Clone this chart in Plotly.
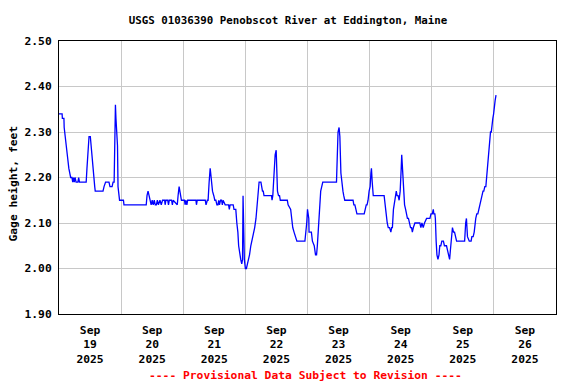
import pandas as pd
import plotly.graph_objects as go

# Hours since 2025-09-19 00:00 (local) and gage height (feet)
hours = [
    0, 1.2, 1.3, 1.6, 1.9, 2.0, 2.5, 3.0, 3.4, 3.8, 4.2, 4.5, 5.0, 5.3, 5.6, 5.9, 6.2, 6.6, 7.3, 7.6, 7.9,
    10.5, 10.8, 11.1, 11.4, 11.6, 12.1, 12.4, 12.7, 13.1, 13.4, 13.8, 14.0, 17.0, 17.4, 18.0, 19.3, 19.7,
    20.5, 20.9, 21.3, 21.5, 21.8, 22.0, 22.3, 22.6, 22.8, 23.1, 23.4, 24.2, 24.9, 25.1, 33.7, 34.0, 34.4,
    34.8, 35.2, 35.6, 36.0, 36.4, 36.8, 37.2, 37.6, 38.0, 38.4, 39.0, 39.5, 40.0, 40.8, 41.0, 41.3, 42.0,
    42.3, 42.6, 43.5, 43.8, 44.1, 45.7, 46.0, 46.4, 46.7, 47.0, 47.3, 48.5, 48.7, 49.0, 49.4, 49.7, 52.9,
    53.1, 53.4, 56.5, 56.8, 57.3, 57.6, 58.0, 58.4, 58.6, 58.9, 59.3, 59.8, 60.2, 60.6, 61.0, 61.4, 61.7,
    62.0, 62.4, 62.8, 63.1, 63.4, 64.2, 65.5, 65.8, 66.1, 66.8, 67.3, 67.6, 68.3, 68.7, 69.1, 69.4, 69.8,
    70.2, 70.6, 70.9, 71.1, 71.3, 71.4, 71.6, 72.0, 72.4, 72.8, 73.2, 73.6, 74.1, 74.5, 74.9, 75.3, 75.6,
    76.1, 76.5, 76.9, 77.3, 78.0, 78.2, 78.6, 78.9, 79.2, 82.1, 82.3, 82.6, 83.1, 83.5, 83.9, 84.1, 84.4,
    84.8, 85.2, 85.5, 88.2, 88.5, 89.2, 89.5, 89.9, 90.3, 90.8, 91.3, 91.9, 95.0, 95.4, 95.7, 96.0, 96.2,
    96.5, 96.6, 97.5, 97.9, 98.6, 99.1, 99.5, 99.8, 100.1, 100.4, 100.8, 101.1, 101.5, 101.9, 107.2, 107.4,
    107.8, 108.2, 108.5, 108.9, 109.3, 109.7, 110.0, 110.4, 112.0, 112.2, 113.6, 113.9, 114.3, 114.7, 115.1,
    117.9, 118.3, 118.7, 119.0, 119.4, 119.8, 120.2, 120.5, 120.7, 121.0, 121.4, 125.6, 126.0, 126.4, 126.8,
    127.2, 127.7, 128.2, 128.5, 128.8, 129.2, 129.7, 130.3, 130.6, 131.0, 131.4, 131.8, 132.2, 132.4, 132.7,
    133.1, 133.5, 133.9, 134.2, 134.6, 135.0, 135.4, 135.8, 136.2, 136.5, 136.9, 137.5, 138.1, 139.4, 139.8,
    140.2, 140.7, 141.2, 142.0, 143.3, 143.7, 144.2, 144.6, 144.8, 145.2, 145.4, 145.7, 146.0, 146.4, 146.8,
    147.1, 147.5, 147.9, 148.5, 148.9, 149.3, 149.7, 150.1, 150.5, 150.9, 151.2, 151.6, 152.0, 152.4, 152.8,
    153.2, 153.6, 156.7, 156.9, 157.1, 157.4, 157.5, 157.8, 158.5, 159.2, 159.5, 160.0, 160.4, 160.7, 161.0,
    161.4, 161.8, 162.2, 162.6, 163.0, 163.4, 163.8, 164.1, 164.5, 164.9, 165.2, 165.4, 165.7, 166.1, 166.5,
    166.7, 167.0, 167.3, 167.6, 167.9, 168.2, 168.5, 168.8, 169.0,
]
gage_height = [
    2.34, 2.34, 2.33, 2.33, 2.33, 2.31, 2.28, 2.26, 2.24, 2.22, 2.21, 2.20, 2.20, 2.19, 2.20, 2.19, 2.20, 2.19, 2.19, 2.20, 2.19,
    2.19, 2.22, 2.25, 2.28, 2.29, 2.29, 2.27, 2.25, 2.21, 2.19, 2.18, 2.17, 2.17, 2.18, 2.19, 2.19, 2.18,
    2.18, 2.19, 2.19, 2.29, 2.36, 2.33, 2.30, 2.27, 2.18, 2.16, 2.15, 2.15, 2.15, 2.14, 2.14, 2.16, 2.17,
    2.16, 2.15, 2.14, 2.15, 2.14, 2.15, 2.14, 2.14, 2.15, 2.14, 2.15, 2.14, 2.15, 2.15, 2.14, 2.15, 2.15,
    2.14, 2.15, 2.15, 2.14, 2.15, 2.14, 2.16, 2.18, 2.17, 2.16, 2.15, 2.15, 2.14, 2.15, 2.14, 2.15, 2.15,
    2.14, 2.15, 2.15, 2.14, 2.15, 2.15, 2.19, 2.22, 2.21, 2.19, 2.17, 2.16, 2.15, 2.15, 2.14, 2.14, 2.15,
    2.14, 2.15, 2.15, 2.14, 2.15, 2.14, 2.14, 2.13, 2.14, 2.14, 2.14, 2.13, 2.13, 2.10, 2.08, 2.05, 2.03,
    2.02, 2.01, 2.02, 2.16, 2.08, 2.14, 2.02, 2.00, 2.00, 2.01, 2.02, 2.03, 2.05, 2.06, 2.07, 2.08, 2.09,
    2.11, 2.14, 2.17, 2.19, 2.19, 2.18, 2.17, 2.17, 2.16, 2.16, 2.15, 2.16, 2.22, 2.25, 2.26, 2.20, 2.17,
    2.16, 2.16, 2.15, 2.15, 2.14, 2.13, 2.13, 2.11, 2.09, 2.08, 2.07, 2.06, 2.06, 2.08, 2.10, 2.13, 2.12,
    2.11, 2.08, 2.08, 2.06, 2.05, 2.03, 2.03, 2.05, 2.08, 2.12, 2.14, 2.17, 2.18, 2.19, 2.19, 2.22,
    2.30, 2.31, 2.29, 2.21, 2.18, 2.17, 2.16, 2.15, 2.15, 2.15, 2.15, 2.14, 2.14, 2.13, 2.12,
    2.12, 2.13, 2.14, 2.14, 2.15, 2.17, 2.18, 2.21, 2.22, 2.19, 2.16, 2.16, 2.13, 2.12, 2.10,
    2.09, 2.09, 2.08, 2.09, 2.09, 2.13, 2.15, 2.17, 2.16, 2.16, 2.15, 2.17, 2.22, 2.25, 2.22,
    2.18, 2.14, 2.13, 2.12, 2.11, 2.11, 2.10, 2.09, 2.09, 2.08, 2.09, 2.10, 2.10, 2.10, 2.09,
    2.10, 2.09, 2.10, 2.11, 2.11, 2.12, 2.12, 2.13, 2.12, 2.12, 2.11, 2.06, 2.03, 2.02, 2.03,
    2.05, 2.05, 2.06, 2.06, 2.05, 2.05, 2.05, 2.04, 2.03, 2.02, 2.04, 2.07, 2.09, 2.08, 2.08,
    2.07, 2.06, 2.06, 2.09, 2.10, 2.11, 2.09, 2.07, 2.06, 2.06, 2.07, 2.07, 2.08, 2.10, 2.11,
    2.12, 2.12, 2.13, 2.14, 2.15, 2.16, 2.17, 2.17, 2.18, 2.18, 2.20, 2.23, 2.25, 2.27, 2.29,
    2.30, 2.30, 2.32, 2.33, 2.34, 2.36, 2.37, 2.38, 2.38,
]

start = pd.Timestamp("2025-09-19 00:00")
times = start + pd.to_timedelta(hours, unit="h")

title_text = "USGS 01036390 Penobscot River at Eddington, Maine"
y_title = "Gage height, feet"
footer_text = "---- Provisional Data Subject to Revision ----"

FONT = "DejaVu Sans Mono"

fig = go.Figure()
fig.add_trace(go.Scatter(
    x=times, y=gage_height, mode="lines",
    line=dict(color="#0000FF", width=1.3),
    hoverinfo="skip", showlegend=False,
))

fig.update_layout(
    width=576, height=384,
    margin=dict(l=59, r=20, t=41, b=70),
    paper_bgcolor="white", plot_bgcolor="white",
    font=dict(family=FONT, size=11, color="black"),
    title=dict(text="<b>" + title_text + "</b>", x=0.5, xanchor="center",
               y=1 - 20 / 384, yanchor="middle", yref="container",
               font=dict(family=FONT, size=10.8, color="black")),
    showlegend=False,
)

fig.update_xaxes(
    type="date",
    range=["2025-09-19 00:00", "2025-09-27 00:00"],
    dtick=86400000, tick0="2025-09-19",
    ticklabelmode="period",
    tickformat="%b<br>%d<br>%Y",
    tickfont=dict(family=FONT, size=11.3, color="black", weight="bold"),
    ticklabelstandoff=5,
    showgrid=True, gridcolor="#c8c8c8", gridwidth=1,
    showline=True, linecolor="black", linewidth=1, mirror=True,
    ticks="", zeroline=False,
)
fig.update_yaxes(
    range=[1.90, 2.50], dtick=0.1, tick0=1.90, tickformat=".2f",
    tickfont=dict(family=FONT, size=11.3, color="black", weight="bold"),
    showgrid=True, gridcolor="#c8c8c8", gridwidth=1,
    showline=True, linecolor="black", linewidth=1, mirror=True,
    ticks="outside", ticklen=4, tickcolor="white", zeroline=False,
)

fig.add_annotation(
    text="<b>" + y_title + "</b>", textangle=-90,
    xref="paper", yref="paper", x=(13 - 59) / 497, y=0.5 - 6 / 273,
    xanchor="center", yanchor="middle", showarrow=False,
    font=dict(family=FONT, size=11.3, color="black"),
)
fig.add_annotation(
    text="<b>" + footer_text + "</b>",
    xref="paper", yref="paper", x=(305 - 59) / 497, y=-61 / 273,
    xanchor="center", yanchor="middle", showarrow=False,
    font=dict(family=FONT, size=11.3, color="#FF0000"),
)

fig.write_html(
    "out.html",
    config={"displayModeBar": False},
    post_script="document.body.style.margin='0px';document.body.style.overflow='hidden';",
)
